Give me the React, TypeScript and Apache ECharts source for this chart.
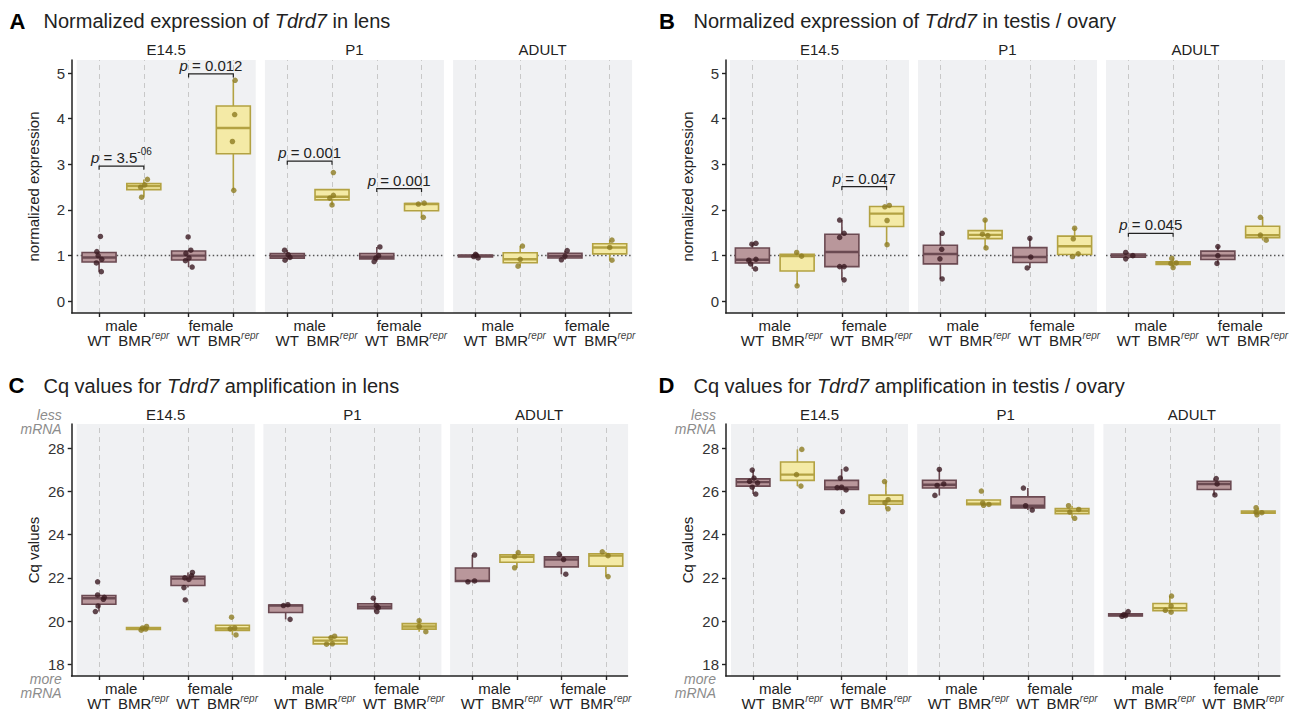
import React, { useEffect, useRef } from 'react';
import * as echarts from 'echarts';

const FONT = '"Liberation Sans", Arial, Helvetica, sans-serif';

// ---------- categories / labels ----------
const stages = ['E14.5', 'P1', 'ADULT'];
const groups = ['male WT', 'male BMR', 'female WT', 'female BMR'];
const sexLabels = ['male', 'female'];
const normTicks = [0, 1, 2, 3, 4, 5];
const cqTicks = [18, 20, 22, 24, 26, 28];

// ---------- data: per group, points as [jitter offset, value] ----------
// A: normalized expression, lens
const lensNormE14 = [
  [[0.05, 0.65], [-0.06, 0.84], [0.06, 0.92], [-0.02, 1.0], [-0.05, 1.09], [0.03, 1.42]],
  [[-0.05, 2.28], [-0.07, 2.5], [0.02, 2.55], [0.08, 2.67]],
  [[0.08, 0.75], [-0.07, 0.89], [0.01, 0.95], [-0.06, 1.05], [0.05, 1.12], [-0.01, 1.41]],
  [[0.01, 2.43], [-0.02, 3.5], [0.03, 4.09], [0.04, 4.84]],
];
const lensNormP1 = [
  [[-0.05, 0.9], [0.06, 0.96], [0.02, 1.02], [-0.06, 1.12]],
  [[0.0, 2.11], [-0.05, 2.26], [0.03, 2.32], [0.03, 2.82]],
  [[-0.06, 0.87], [-0.02, 0.95], [0.04, 1.0], [0.07, 1.19]],
  [[0.04, 1.84], [-0.07, 2.13], [0.06, 2.15]],
];
const lensNormAdult = [
  [[0.06, 0.95], [-0.04, 0.98], [0.02, 1.01], [0.0, 1.03]],
  [[-0.05, 0.77], [0.0, 0.92], [0.05, 1.21]],
  [[-0.08, 0.91], [0.0, 0.99], [0.05, 1.11]],
  [[0.05, 0.9], [0.0, 1.18], [0.05, 1.34]],
];
// B: normalized expression, testis / ovary
const gonadNormE14 = [
  [[0.07, 0.71], [-0.04, 0.82], [-0.08, 0.9], [0.08, 0.92], [-0.01, 1.25], [0.08, 1.27]],
  [[0.0, 0.34], [0.1, 0.99], [-0.01, 1.07]],
  [[0.05, 0.47], [-0.05, 0.76], [0.05, 0.76], [-0.05, 1.4], [0.05, 1.49], [-0.05, 1.78]],
  [[0.01, 1.24], [0.01, 1.77], [-0.04, 2.07], [0.06, 2.1]],
];
const gonadNormP1 = [
  [[0.04, 0.49], [-0.01, 0.93], [0.03, 1.14], [0.04, 1.49]],
  [[0.02, 1.17], [0.06, 1.44], [-0.06, 1.47], [0.0, 1.78]],
  [[-0.06, 0.73], [0.02, 0.97], [0.0, 1.38]],
  [[-0.05, 0.98], [0.08, 1.04], [-0.03, 1.37], [0.0, 1.6]],
];
const gonadNormAdult = [
  [[-0.06, 0.93], [0.1, 1.0], [-0.06, 1.07]],
  [[0.0, 0.74], [-0.05, 0.83], [0.07, 0.84], [-0.03, 0.94]],
  [[-0.02, 0.83], [0.0, 1.0], [0.0, 1.2]],
  [[0.08, 1.34], [-0.05, 1.45], [-0.05, 1.84]],
];
// C: Cq values, lens
const lensCqE14 = [
  [[-0.08, 20.44], [-0.02, 20.7], [0.1, 21.01], [0.12, 21.1], [-0.03, 21.21], [-0.03, 21.82]],
  [[-0.05, 19.58], [0.05, 19.63], [-0.02, 19.68], [0.07, 19.75]],
  [[-0.06, 20.98], [-0.09, 21.55], [0.02, 21.93], [-0.07, 22.0], [0.08, 22.1], [0.1, 22.25]],
  [[0.08, 19.36], [-0.05, 19.64], [0.05, 19.68], [-0.02, 20.18]],
];
const lensCqP1 = [
  [[0.1, 20.08], [-0.05, 20.72], [0.05, 20.76]],
  [[-0.08, 18.93], [0.05, 18.95], [0.02, 19.24], [0.1, 19.3]],
  [[0.05, 20.44], [0.08, 20.62], [0.04, 20.72], [-0.03, 21.06]],
  [[0.15, 19.51], [0.0, 19.75], [0.0, 20.02]],
];
const lensCqAdult = [
  [[-0.1, 21.82], [0.05, 21.86], [0.05, 23.06]],
  [[-0.05, 22.47], [-0.05, 22.98], [0.03, 23.17]],
  [[0.1, 22.17], [0.05, 22.85], [-0.05, 23.1]],
  [[0.05, 22.06], [0.05, 23.03], [-0.08, 23.21]],
];
// D: Cq values, testis / ovary
const gonadCqE14 = [
  [[0.06, 25.88], [-0.02, 26.2], [0.1, 26.4], [-0.08, 26.47], [0.02, 26.62], [-0.02, 26.99]],
  [[0.08, 26.25], [-0.02, 26.78], [0.1, 27.95]],
  [[0.02, 25.07], [0.1, 26.07], [-0.1, 26.18], [0.0, 26.2], [-0.03, 26.62], [0.1, 27.04]],
  [[0.05, 25.2], [-0.02, 25.48], [0.05, 25.62], [-0.03, 26.46]],
];
const gonadCqP1 = [
  [[-0.1, 25.82], [-0.05, 26.28], [0.1, 26.35], [0.0, 27.02]],
  [[0.0, 25.36], [0.12, 25.4], [-0.02, 25.47], [-0.05, 26.02]],
  [[0.1, 25.14], [-0.05, 25.34], [-0.1, 26.16]],
  [[0.06, 24.76], [-0.05, 25.05], [0.15, 25.17], [-0.08, 25.34]],
];
const gonadCqAdult = [
  [[-0.08, 20.22], [0.0, 20.25], [-0.04, 20.3], [0.06, 20.44]],
  [[0.03, 20.41], [-0.1, 20.5], [0.03, 20.7], [0.04, 21.16]],
  [[0.02, 25.84], [0.07, 26.35], [0.05, 26.6]],
  [[-0.03, 24.92], [0.08, 25.02], [-0.05, 25.05], [-0.05, 25.25]],
];

// p-value brackets: facet, from group, to group, y, p text, exponent
const lensNormBrackets = [
  { facet: 0, from: 0, to: 1, y: 2.96, p: '3.5', exp: '-06' },
  { facet: 0, from: 2, to: 3, y: 4.98, p: '0.012', exp: '' },
  { facet: 1, from: 0, to: 1, y: 3.07, p: '0.001', exp: '' },
  { facet: 1, from: 2, to: 3, y: 2.47, p: '0.001', exp: '' },
];
const gonadNormBrackets = [
  { facet: 0, from: 2, to: 3, y: 2.51, p: '0.047', exp: '' },
  { facet: 2, from: 0, to: 1, y: 1.49, p: '0.045', exp: '' },
];

// ---------- styling ----------
const WT_FILL = '#b9979b';
const WT_LINE = '#6b4a52';
const WT_PT = '#3b1a22';
const BMR_FILL = '#f4eaa6';
const BMR_LINE = '#b3a242';
const BMR_PT = '#8d7c20';
const PANEL_BG = '#f0f1f3';
const INK = '#222222';

const panels = [
  {
    letter: 'A', title: 'Normalized expression of {i|Tdrd7} in lens', yName: 'normalized expression',
    min: -0.256, max: 5.285, ticks: normTicks, ref: 1,
    facets: [lensNormE14, lensNormP1, lensNormAdult], brackets: lensNormBrackets,
    layout: { left: 76.7, step: 188.2, width: 179, top: 60, height: 253, axisX: 72, letterX: 9.5, titleX: 43.5, titleY: 21.2, stripY: 49.5 },
    mrna: false,
  },
  {
    letter: 'B', title: 'Normalized expression of {i|Tdrd7} in testis / ovary', yName: 'normalized expression',
    min: -0.256, max: 5.285, ticks: normTicks, ref: 1,
    facets: [gonadNormE14, gonadNormP1, gonadNormAdult], brackets: gonadNormBrackets,
    layout: { left: 730, step: 188, width: 179, top: 60, height: 253, axisX: 726, letterX: 659, titleX: 693.5, titleY: 21.2, stripY: 49.5 },
    mrna: false,
  },
  {
    letter: 'C', title: 'Cq values for {i|Tdrd7} amplification in lens', yName: 'Cq values',
    min: 17.458, max: 29.125, ticks: cqTicks, ref: null,
    facets: [lensCqE14, lensCqP1, lensCqAdult], brackets: [],
    layout: { left: 76.7, step: 186.7, width: 178, top: 424, height: 252, axisX: 71.7, letterX: 8.5, titleX: 43.5, titleY: 385.8, stripY: 414.7 },
    mrna: true,
  },
  {
    letter: 'D', title: 'Cq values for {i|Tdrd7} amplification in testis / ovary', yName: 'Cq values',
    min: 17.458, max: 29.125, ticks: cqTicks, ref: null,
    facets: [gonadCqE14, gonadCqP1, gonadCqAdult], brackets: [],
    layout: { left: 731, step: 186.2, width: 177, top: 424, height: 252, axisX: 726, letterX: 658.5, titleX: 693.5, titleY: 385.8, stripY: 414.7 },
    mrna: true,
  },
];

function q7(s: number[], p: number) {
  const h = (s.length - 1) * p;
  const lo = Math.floor(h);
  const hi = Math.min(lo + 1, s.length - 1);
  return s[lo] + (h - lo) * (s[hi] - s[lo]);
}
function boxStats(vals: number[]) {
  const s = [...vals].sort((a, b) => a - b);
  const q1 = q7(s, 0.25), md = q7(s, 0.5), q3 = q7(s, 0.75);
  const iqr = q3 - q1;
  const inside = s.filter((v) => v >= q1 - 1.5 * iqr && v <= q3 + 1.5 * iqr);
  const lo = Math.min(inside[0], q1);
  const hi = Math.max(inside[inside.length - 1], q3);
  return [lo, q1, md, q3, hi];
}

function boxRender(params: any, api: any) {
  const ci = api.value(0);
  const c = (v: number) => api.coord([ci, v]);
  const [cx, yLow] = c(api.value(1));
  const yQ1 = c(api.value(2))[1];
  const yMed = c(api.value(3))[1];
  const yQ3 = c(api.value(4))[1];
  const yHigh = c(api.value(5))[1];
  const bmr = api.value(6) === 1;
  const stroke = bmr ? BMR_LINE : WT_LINE;
  const fill = bmr ? BMR_FILL : WT_FILL;
  const bw = api.size([1, 0])[0] * 0.76;
  return {
    type: 'group',
    children: [
      { type: 'line', shape: { x1: cx, y1: yQ3, x2: cx, y2: yHigh }, style: { stroke, lineWidth: 1.6 } },
      { type: 'line', shape: { x1: cx, y1: yQ1, x2: cx, y2: yLow }, style: { stroke, lineWidth: 1.6 } },
      { type: 'rect', shape: { x: cx - bw / 2, y: yQ3, width: bw, height: Math.max(yQ1 - yQ3, 0.5) }, style: { fill, stroke, lineWidth: 1.6 } },
      { type: 'line', shape: { x1: cx - bw / 2, y1: yMed, x2: cx + bw / 2, y2: yMed }, style: { stroke, lineWidth: 2.4 } },
    ],
  };
}

function makeBracketRender(list: any[]) {
  return (params: any, api: any) => {
    const b = list[params.dataIndex];
    const y = api.value(2);
    const a = api.coord([api.value(0), y]);
    const e = api.coord([api.value(1), y]);
    const tip = 3.5;
    const hasExp = !!b.exp;
    const LH = hasExp ? 22 : 14;
    const text = '{i|p}{n| = ' + b.p + '}' + (hasExp ? '{s|' + b.exp + '}' : '');
    return {
      type: 'group',
      children: [
        {
          type: 'polyline',
          shape: { points: [[a[0], a[1] + tip], [a[0], a[1]], [e[0], e[1]], [e[0], e[1] + tip]] },
          style: { stroke: INK, lineWidth: 1.2, fill: 'none' },
        },
        {
          type: 'text',
          x: (a[0] + e[0]) / 2,
          y: a[1] - 8.5 + LH / 2,
          style: {
            text,
            fontSize: 15,
            fontFamily: FONT,
            fill: INK,
            align: 'center',
            verticalAlign: 'bottom',
            lineHeight: LH,
            rich: {
              i: { fontSize: 15, fontFamily: FONT, fontStyle: 'italic', fill: INK, lineHeight: LH, verticalAlign: 'middle' },
              n: { fontSize: 15, fontFamily: FONT, fill: INK, lineHeight: LH, verticalAlign: 'middle' },
              s: { fontSize: 10, fontFamily: FONT, fill: INK, lineHeight: 12, verticalAlign: 'top' },
            },
          },
        },
      ],
    };
  };
}

function buildOption() {
  const grid: any[] = [];
  const xAxis: any[] = [];
  const yAxis: any[] = [];
  const series: any[] = [];
  const graphic: any[] = [];

  panels.forEach((P) => {
    const L = P.layout;
    graphic.push({
      type: 'text', x: L.letterX, y: L.titleY, z: 10,
      style: { text: P.letter, fontSize: 22, fontWeight: 'bold', fontFamily: FONT, fill: '#000', verticalAlign: 'middle' },
    });
    graphic.push({
      type: 'text', x: L.titleX, y: L.titleY, z: 10,
      style: {
        text: P.title, fontSize: 20, fontFamily: FONT, fill: INK, verticalAlign: 'middle',
        rich: { i: { fontSize: 20, fontFamily: FONT, fontStyle: 'italic', fill: INK } },
      },
    });
    const bottom = L.top + L.height;
    const lastRight = L.left + 2 * L.step + L.width;
    graphic.push({
      type: 'line', z: 10,
      shape: { x1: L.axisX - 0.75, y1: bottom, x2: lastRight, y2: bottom },
      style: { stroke: INK, lineWidth: 1.5 },
    });
    if (P.mrna) {
      const rx = L.axisX - 10;
      const mk = (t: string, y: number) => ({
        type: 'text', x: rx, y, z: 10,
        style: { text: t, fontSize: 14, fontStyle: 'italic', fontFamily: FONT, fill: '#8c8c8c', align: 'right', verticalAlign: 'middle', lineHeight: 12 },
      });
      graphic.push(mk('less', L.top - 9.5), mk('mRNA', L.top + 5), mk('more', bottom + 3), mk('mRNA', bottom + 16.5));
    }

    P.facets.forEach((facet, f) => {
      const g = grid.length;
      const left = L.left + f * L.step;
      grid.push({ left, top: L.top, width: L.width, height: L.height, show: true, backgroundColor: PANEL_BG, borderWidth: 0 });
      graphic.push({
        type: 'text', x: left + L.width / 2, y: L.stripY, z: 10,
        style: { text: stages[f], fontSize: 15, fontFamily: FONT, fill: INK, align: 'center', verticalAlign: 'middle', lineHeight: 12 },
      });

      xAxis.push({
        type: 'category', gridIndex: g, data: groups, position: 'bottom', boundaryGap: true,
        axisLine: { show: false, onZero: false },
        axisTick: { show: true, alignWithLabel: true, length: 4, lineStyle: { color: INK, width: 1.4 } },
        splitLine: { show: false },
        axisLabel: {
          interval: 0, fontSize: 15, color: INK, fontFamily: FONT, margin: 17, lineHeight: 20,
          formatter: (v: string) => (v.indexOf('BMR') >= 0 ? 'BMR{sup|repr}' : 'WT'),
          rich: { sup: { fontSize: 10, fontStyle: 'italic', fontFamily: FONT, color: '#444', lineHeight: 12, verticalAlign: 'top' } },
        },
      });
      xAxis.push({
        type: 'category', gridIndex: g, data: sexLabels, position: 'bottom', boundaryGap: true,
        axisLine: { show: false, onZero: false }, axisTick: { show: false }, splitLine: { show: false },
        axisLabel: { interval: 0, fontSize: 15, color: INK, fontFamily: FONT, margin: 5 },
      });
      xAxis.push({
        type: 'value', gridIndex: g, min: -0.5, max: 3.5, show: false, position: 'top',
        axisLine: { onZero: false }, splitLine: { show: false },
      });

      yAxis.push({
        type: 'value', gridIndex: g, min: P.min, max: P.max, show: f === 0,
        offset: left - L.axisX,
        axisLine: { show: true, onZero: false, lineStyle: { color: INK, width: 1.5 } },
        axisTick: { show: true, length: 4, customValues: P.ticks, lineStyle: { color: INK, width: 1.4 } },
        axisLabel: { customValues: P.ticks, fontSize: 15, color: '#333', fontFamily: FONT, margin: 7, lineHeight: 13 },
        splitLine: { show: false },
        name: f === 0 ? P.yName : '',
        nameLocation: 'middle', nameGap: 31,
        nameTextStyle: { fontSize: 15, color: INK, fontFamily: FONT },
      });

      const boxData = facet.map((pts, gi) => {
        const st = boxStats(pts.map((p) => p[1]));
        return [gi, st[0], st[1], st[2], st[3], st[4], gi % 2];
      });
      series.push({
        type: 'custom', xAxisIndex: 3 * g, yAxisIndex: g, z: 2, silent: true,
        encode: { x: 0, y: [1, 2, 3, 4, 5] },
        renderItem: boxRender, data: boxData,
      });

      const pointData: any[] = [];
      facet.forEach((pts, gi) => {
        pts.forEach((p) => {
          pointData.push({ value: [gi + p[0], p[1]], itemStyle: { color: gi % 2 ? BMR_PT : WT_PT } });
        });
      });
      const mlData: any[] = [0, 1, 2, 3].map((i) => ({
        xAxis: i, lineStyle: { color: '#c8c8c8', type: [5, 4], width: 1 },
      }));
      if (P.ref != null) {
        mlData.push({ yAxis: P.ref, lineStyle: { color: '#555', type: [1.5, 2.5], width: 1.3 } });
      }
      series.push({
        type: 'scatter', xAxisIndex: 3 * g + 2, yAxisIndex: g, z: 3, silent: true,
        symbolSize: 5.5, data: pointData,
        markLine: { silent: true, symbol: 'none', z: 1, label: { show: false }, animation: false, data: mlData },
      });

      const bl = P.brackets.filter((b) => b.facet === f);
      if (bl.length) {
        series.push({
          type: 'custom', xAxisIndex: 3 * g + 2, yAxisIndex: g, z: 4, silent: true,
          encode: { x: [0, 1], y: 2 },
          renderItem: makeBracketRender(bl),
          data: bl.map((b) => [b.from, b.to, b.y]),
        });
      }
    });
  });

  return { animation: false, backgroundColor: '#ffffff', grid, xAxis, yAxis, series, graphic };
}

export default function App() {
  const ref = useRef<HTMLDivElement>(null);
  useEffect(() => {
    if (!ref.current) return;
    const chart = echarts.init(ref.current, null, { renderer: 'svg' });
    chart.setOption(buildOption() as any);
    return () => chart.dispose();
  }, []);
  return (
    <div
      ref={ref}
      style={{ position: 'absolute', left: 0, top: 0, width: 1293, height: 714, background: '#fff' }}
    />
  );
}
